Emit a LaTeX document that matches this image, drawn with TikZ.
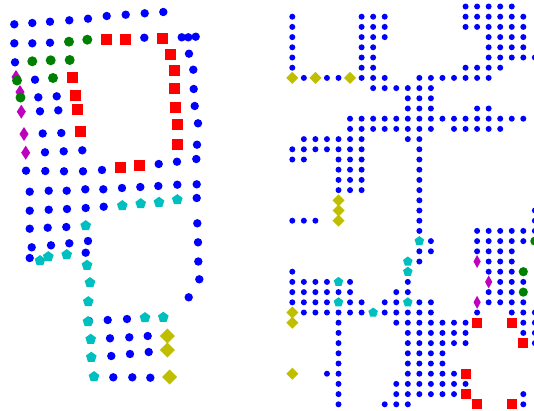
\documentclass[tikz,border=0pt]{standalone}
\definecolor{mb}{rgb}{0,0,1}
\definecolor{mg}{rgb}{0,0.5,0}
\definecolor{mr}{rgb}{1,0,0}
\definecolor{mc}{rgb}{0,0.75,0.75}
\definecolor{mm}{rgb}{0.75,0,0.75}
\definecolor{my}{rgb}{0.75,0.75,0}
\tikzset{
  bluedot/.style={fill=mb},
  greendot/.style={fill=mg},
  redsq/.style={fill=mr},
  cyanpent/.style={fill=mc},
  magdia/.style={fill=mm},
  yeldia/.style={fill=my}
}
% style, x, y, radius
\newcommand\MCirc[4]{\fill[#1] (#2,#3) circle (#4);}
\newcommand\MSq[4]{\fill[#1] (#2,#3) +(-#4,-#4) rectangle +(#4,#4);}
% style, x, y, half-width, half-height
\newcommand\MDia[5]{\fill[#1] (#2,#3) +(0,-#5) -- +(#4,0) -- +(0,#5) -- +(-#4,0) -- cycle;}
\newcommand\MPent[4]{\fill[#1] (#2,#3) +(270:#4) -- +(342:#4) -- +(54:#4) -- +(126:#4) -- +(198:#4) -- cycle;}
% right grid helpers: column, row
\newcommand\GX[1]{{292.3+11.55*#1}}
\newcommand\GY[1]{{6.5+10.2*#1}}
\begin{document}
\begin{tikzpicture}[x=1pt,y=-1pt]
\useasboundingbox (0,0) rectangle (534,410);
\clip (0,0) rectangle (534,410);
\fill[white] (0,0) rectangle (534,410);

% ---------------- left panel ----------------
\foreach \x/\y in {14.3/24.3, 32.3/23, 50/21.7, 69.3/20.3, 88/18.7, 106.7/16, 125.7/14.7, 144.7/13.3, 163.3/12,
  14.3/43.3, 32.3/43.3, 50/42.7, 144.3/37.7, 181.7/37.3, 188.3/37.3, 195.7/36.7,
  15/62.3, 189/53.7,
  35/79.7, 193.3/69.7,
  38.3/97.3, 56.7/96.3, 193.7/89,
  40/111.3, 58.3/110.3, 194.7/106,
  42.7/133.5, 61.3/133, 198/123.3,
  45/152.3, 63.7/151.3, 82.3/150.3, 197/144.7,
  26/170.7, 45.3/171, 64/171.3, 83/171.3, 102/170, 158.7/164, 177/161.7, 196.3/159,
  29.7/191.7, 48.7/190.7, 66.7/190.7, 85.3/189.3, 103.3/189.3, 122/188, 140.3/187, 158.3/186, 177.3/184.7, 196.7/184.3,
  29.7/210.7, 48.7/209.7, 67/209, 85.7/208, 103.7/206.7, 196.7/198,
  29.7/228.7, 47.7/227.7, 66.3/227, 197.3/223.3,
  31.7/247.3, 51/245.3, 69.3/243.3, 88/241, 198/242.3,
  29.7/258, 85.7/252.7, 198.3/261.5,
  199.3/279.3, 188.7/297.3,
  89/321, 107.7/320, 127/319,
  110/338.3, 129.3/337.3, 147.7/336,
  111.3/356, 130/354, 148.7/352,
  113.3/377.3, 132.3/377.3, 150.3/377.7}
  {\MCirc{bluedot}{\x}{\y}{4.2}}

\foreach \x/\y in {16/77, 20/92, 21.3/111.7, 24/134, 25.7/152.7}
  {\MDia{magdia}{\x}{\y}{4.5}{7}}

\foreach \x/\y in {69/41.7, 87.3/39.7, 32.3/61.3, 50.7/60.3, 69.7/60, 17/80.5, 53/78, 20.5/97.5}
  {\MCirc{greendot}{\x}{\y}{5}}

\foreach \x/\y in {106.7/39.7, 125.7/39.3, 162.7/38, 170.3/54, 72.7/77, 174/70, 75.7/95.3, 174.7/88.7,
  77.7/109.7, 175/107.7, 80.3/131.5, 177.7/124.3, 177/144.7, 120.7/167.3, 139/165.3}
  {\MSq{redsq}{\x}{\y}{5.5}}

\foreach \x/\y in {122.3/205.7, 140.7/203.7, 159/202.3, 177.3/199.7, 85.7/225.7, 40/260.7, 48.3/256.7,
  66.7/254.7, 87/265.3, 90/282.7, 88.3/301.7, 88/321.7, 145/317.7, 163.3/317.3, 90.7/339.3, 91.3/357.3, 94/376.7}
  {\MPent{cyanpent}{\x}{\y}{5.6}}

\foreach \x/\y in {167.3/336, 167.3/350, 169.7/377}
  {\MDia{yeldia}{\x}{\y}{7.5}{7.5}}

% ---------------- right panel (grid) ----------------
\foreach \r/\cs in {
  0/{15,16,17,18,19},
  1/{0,6,7,8,15,16,17,18,19,20},
  2/{0,6,7,8,15,16,17,18,19,20},
  3/{0,6,7,8,17,18,19,20},
  4/{0,6,7,17,18,19,20},
  5/{0,6,7,17,18,19,20,21},
  6/{0,6,7,15,16,17,18},
  7/{1,3,4,6,7,8,11,12,13,14,15,16,17},
  8/{7,8,9,10,11,12},
  9/{10,11,12},
  10/{10,11,12,16,17},
  11/{5,6,7,8,9,10,11,12,13,14,15,16,17,18,19,20},
  12/{5,6,7,8,9,10,11,12,14,15,16,17,18},
  13/{1,2,3,4,5,6,10,11},
  14/{0,1,2,3,4,5,6,11},
  15/{0,1,4,5,6,11},
  16/{4,5,6,11},
  17/{4,5,6,11},
  18/{4,5,6,11},
  19/{11},
  20/{11,21},
  21/{0,1,2,11,21},
  22/{11,16,17,18,19,20,21},
  23/{12,16,17,18,19,20},
  24/{11,12,16,17,18,19},
  25/{11,17,18,19},
  26/{0,17,18,19},
  27/{0,1,2,3,5,10,18,19,20},
  28/{0,1,2,3,4,5,9,10,17,18,19},
  29/{0,1,2,3,5,6,8,9,11,12,17,18,19,20},
  30/{1,2,3,4,5,6,8,9,10,11,12,16,19,20,21},
  31/{4,9,10,11,12,13,14,15,20,21},
  32/{4,10,11,12,13,14,15,20,21},
  33/{4,10,11,12,13,14,15,21},
  34/{4,10,11,12,13},
  35/{4,10,11,12,13},
  36/{3,4,10,11,12,13,14},
  37/{4,9,10,11,12,13,14,15},
  38/{4,9,10,11,12,13,14,20},
  39/{4,8,9,10,20}}
  {\foreach \c in \cs {\MCirc{bluedot}{\GX{\c}}{\GY{\r}}{3}}}

\foreach \c/\r in {16/25, 17/27, 16/29}
  {\MDia{magdia}{\GX{\c}}{\GY{\r}}{3.6}{6.5}}
\foreach \c/\r in {21/23, 20/26, 20/28}
  {\MCirc{greendot}{\GX{\c}}{\GY{\r}}{4.6}}
\foreach \c/\r in {16/31, 19/31, 20/33, 15/36, 15/38, 16/39, 19/39}
  {\MSq{redsq}{\GX{\c}}{\GY{\r}}{5}}
\foreach \c/\r in {11/23, 10/25, 10/26, 4/27, 4/29, 10/29, 7/30}
  {\MPent{cyanpent}{\GX{\c}}{\GY{\r}}{5}}
\foreach \c/\r in {0/7, 2/7, 5/7, 4/19, 4/20, 4/21, 0/30, 0/31, 0/36}
  {\MDia{yeldia}{\GX{\c}}{\GY{\r}}{6}{6}}
\end{tikzpicture}
\end{document}
